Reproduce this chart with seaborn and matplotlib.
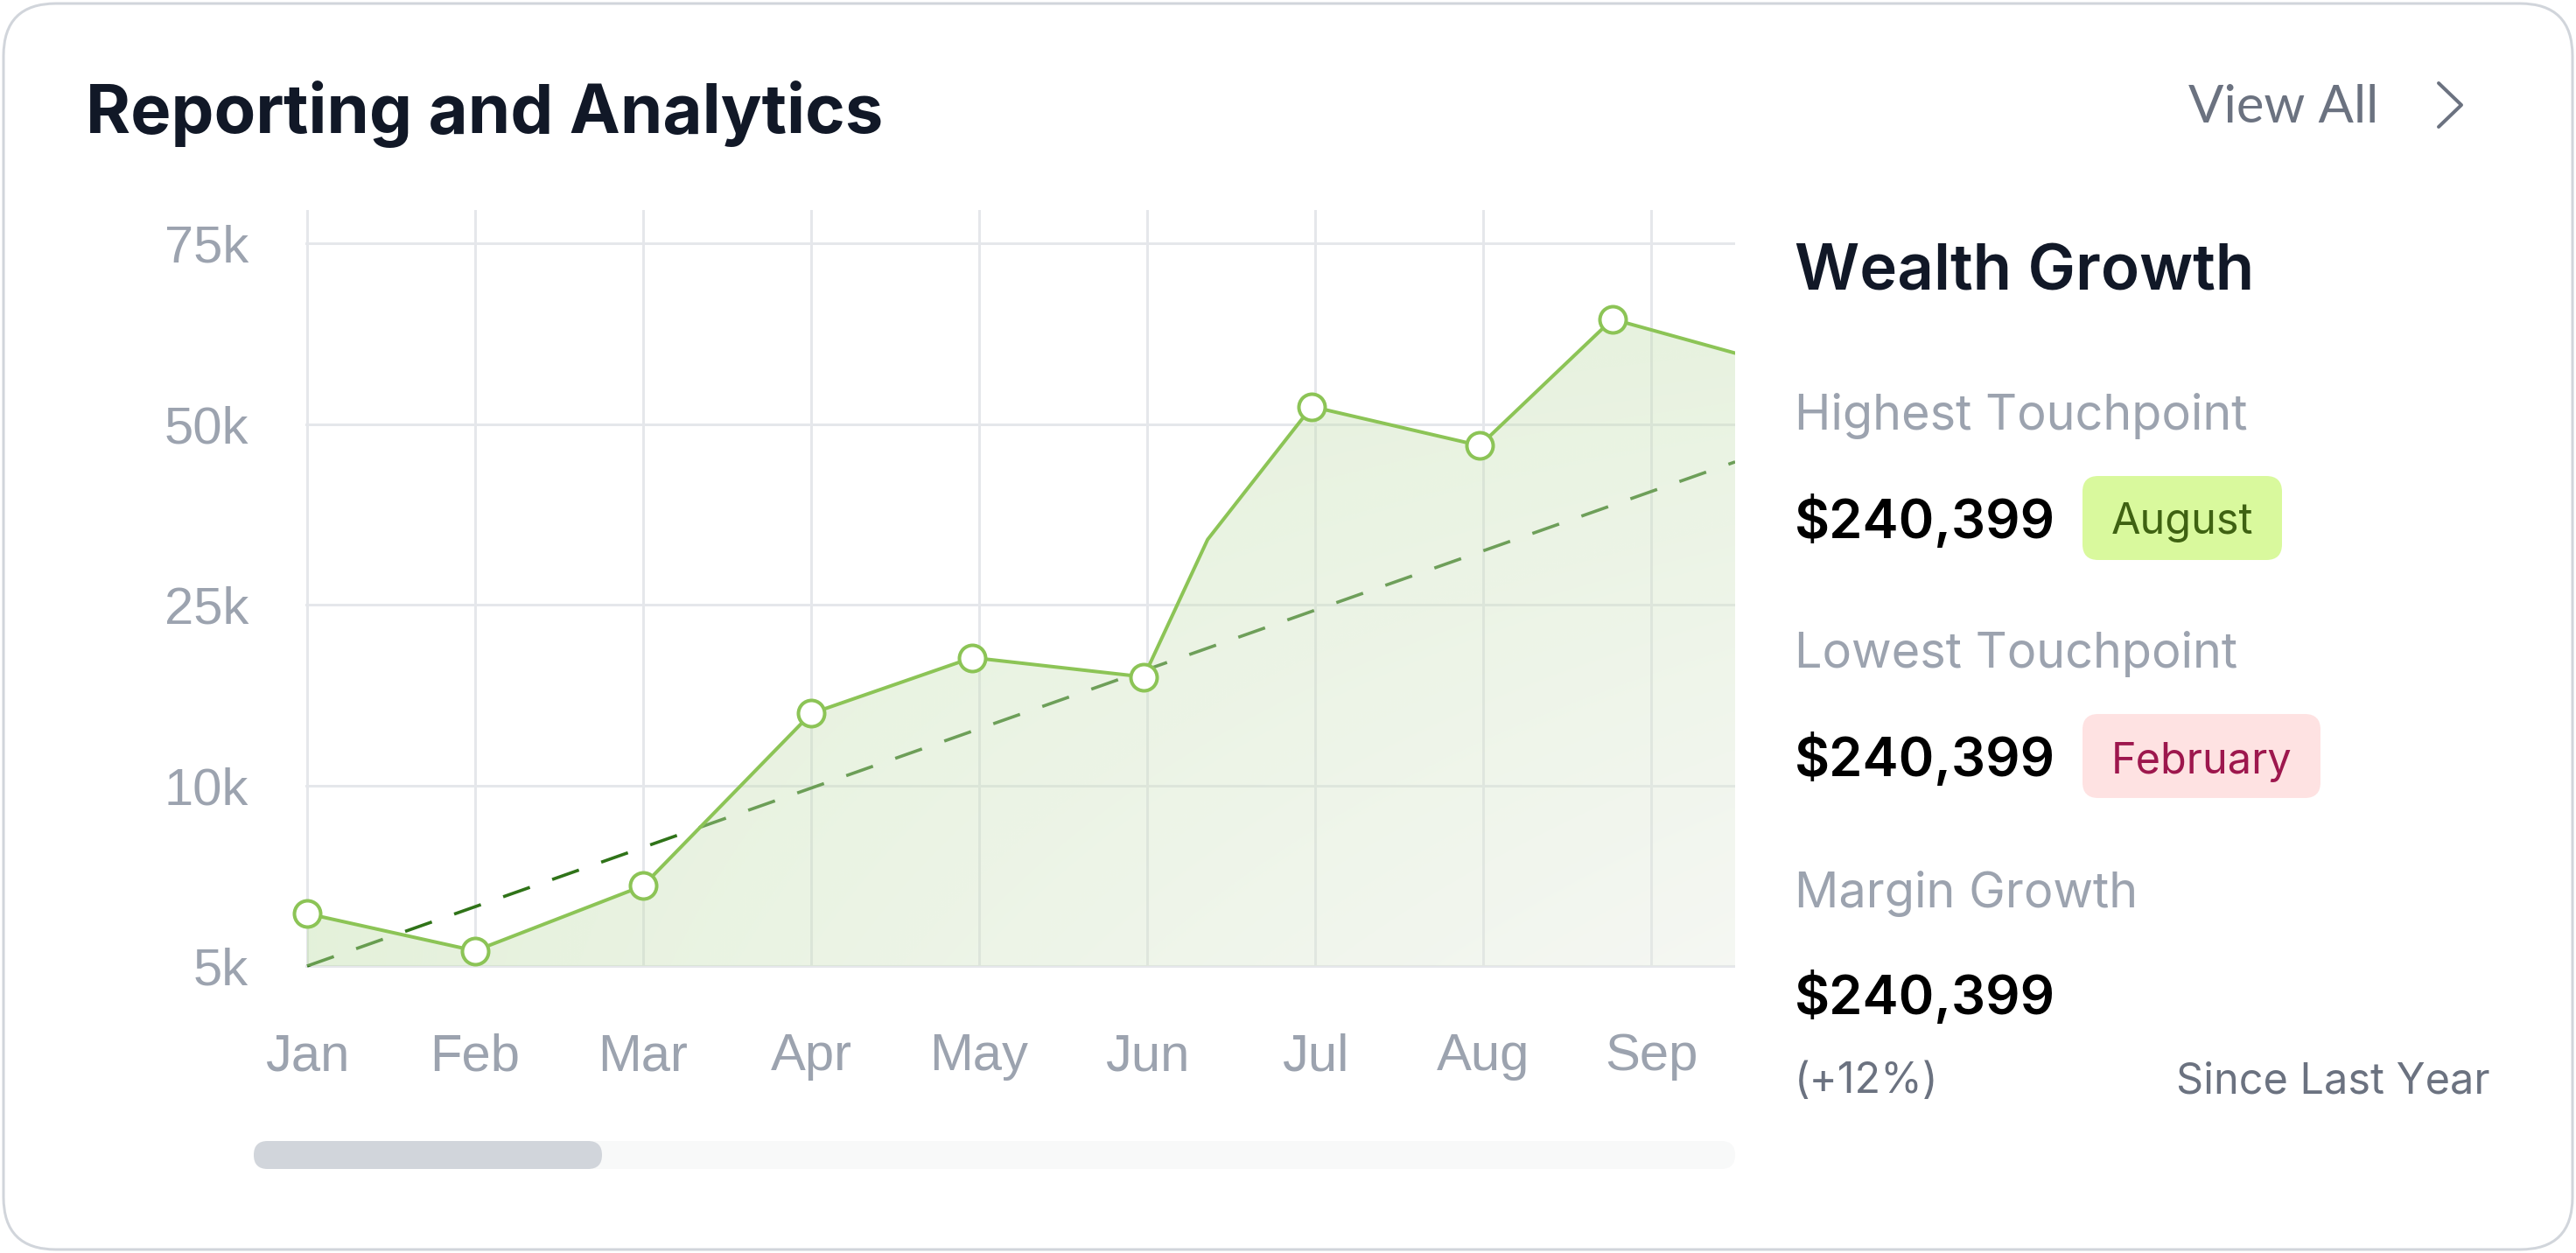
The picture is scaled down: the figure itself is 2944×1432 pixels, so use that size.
import numpy as np
import pandas as pd
import seaborn as sns
import matplotlib.pyplot as plt
from matplotlib.patches import FancyBboxPatch

# ---- data ----
months = ['Jan', 'Feb', 'Mar', 'Apr', 'May', 'Jun', 'Jul', 'Aug', 'Sep']
y_ticks = [5000, 10000, 25000, 50000, 75000]
y_tick_labels = ['5k', '10k', '25k', '50k', '75k']

# wealth series, x in month units (Jan = 0)
point_pos = [0.0, 1.0, 2.0, 3.0, 3.96, 4.98, 5.36, 5.98, 6.98, 7.77, 8.5]
point_val = [6450, 5420, 7220, 15960, 20600, 19000, 34000, 52400, 47000, 64500, 59800]
point_marked = [True, True, True, True, True, True, False, True, True, True, False]

# dashed trend line
trend_pos = [0.0, 8.5]
trend_val = [5000, 44750]

stat_labels = ['Highest Touchpoint', 'Lowest Touchpoint', 'Margin Growth']
stat_values = ['$240,399', '$240,399', '$240,399']
stat_badges = ['August', 'February', None]
margin_change = '(+12%)'
margin_note = 'Since Last Year'

# ---- figure setup ----
W, H = 2944, 1432
DPI = 200
PT = 72 / DPI  # points per pixel

sns.set_theme(style='white')
plt.rcParams['font.family'] = ['Inter', 'DejaVu Sans']

fig = plt.figure(figsize=(W / DPI, H / DPI), dpi=DPI, facecolor='white')


def fx(x):
    return x / W


def fy(y):
    return 1 - y / H


# background card, scrollbar, badges drawn in pixel space
bg = fig.add_axes([0, 0, 1, 1], zorder=0)
bg.set_xlim(0, W)
bg.set_ylim(H, 0)
bg.axis('off')
bg.add_patch(FancyBboxPatch((4, 4), W - 8, H - 8, boxstyle='round,pad=0,rounding_size=60',
                            fc='white', ec='#d1d5db', lw=3 * PT))

# scrollbar
bg.add_patch(FancyBboxPatch((290, 1304), 1983 - 290, 32, boxstyle='round,pad=0,rounding_size=16',
                            fc='#f8f9f9', ec='none'))
bg.add_patch(FancyBboxPatch((290, 1304), 688 - 290, 32, boxstyle='round,pad=0,rounding_size=16',
                            fc='#d1d5db', ec='none'))

# chevron next to "View All"
bg.plot([2787, 2813, 2787], [95, 120, 145], color='#6b7280', lw=4 * PT,
        solid_capstyle='round', solid_joinstyle='round')

# ---- chart axes ----
x_lo, x_hi = -0.01, 8.5
lv_lo, lv_hi = -0.01, 4.184
left_px = 351 + x_lo * 192
right_px = 351 + x_hi * 192
bottom_px = 1104 - lv_lo * 206.5
top_px = 1104 - lv_hi * 206.5
ax = fig.add_axes([fx(left_px), fy(bottom_px), (right_px - left_px) / W, (bottom_px - top_px) / H],
                  zorder=1)
ax.patch.set_visible(False)

tick_lv = np.arange(len(y_ticks), dtype=float)


def to_level(v):
    v = np.asarray(v, dtype=float)
    out = np.interp(v, y_ticks, tick_lv)
    out = np.where(v < y_ticks[0], (v - y_ticks[0]) / (y_ticks[1] - y_ticks[0]), out)
    out = np.where(v > y_ticks[-1], tick_lv[-1] + (v - y_ticks[-1]) / (y_ticks[-1] - y_ticks[-2]), out)
    return out


def from_level(l):
    l = np.asarray(l, dtype=float)
    out = np.interp(l, tick_lv, y_ticks)
    out = np.where(l < 0, y_ticks[0] + l * (y_ticks[1] - y_ticks[0]), out)
    out = np.where(l > tick_lv[-1], y_ticks[-1] + (l - tick_lv[-1]) * (y_ticks[-1] - y_ticks[-2]), out)
    return out


series = pd.DataFrame({'pos': point_pos, 'value': point_val, 'marked': point_marked})
trend = pd.DataFrame({'pos': trend_pos, 'value': trend_val})

line_green = '#8cc456'

# dashed trend sits under the translucent fill
sns.lineplot(data=trend, x='pos', y='value', ax=ax, color='#2f7318', lw=3.6 * PT,
             dashes=False, zorder=2)
ax.lines[-1].set_dashes((9, 7.5))

# gradient fill, clipped to area under the series
poly = ax.fill_between(series['pos'], series['value'], y_ticks[0], color='none', lw=0)
gx, gy = np.meshgrid(np.linspace(0, 1, 300), np.linspace(0, 1, 300))
t = np.clip(gx * (1 - gy), 0, 1) ** 0.85
c_top = np.array([0.735, 0.863, 0.638])
c_bot = np.array([0.905, 0.925, 0.885])
rgba = np.zeros(gx.shape + (4,))
for k in range(3):
    rgba[..., k] = c_top[k] + (c_bot[k] - c_top[k]) * t
rgba[..., 3] = 0.4
im = ax.imshow(rgba, extent=(0, 1, 0, 1), origin='lower', transform=ax.transAxes,
               aspect='auto', zorder=3, interpolation='bilinear')
im.set_clip_path(poly.get_paths()[0], transform=ax.transData)

sns.lineplot(data=series, x='pos', y='value', ax=ax, color=line_green, lw=4 * PT,
             sort=False, zorder=4)
sns.scatterplot(data=series[series['marked']], x='pos', y='value', ax=ax, s=(30 * PT) ** 2,
                color='white', edgecolor=line_green, linewidth=4 * PT, zorder=5, clip_on=False)

ax.set_yscale('function', functions=(to_level, from_level))
ax.set_xlim(x_lo, x_hi)
ax.set_ylim(float(from_level(lv_lo)), float(from_level(lv_hi)))

ax.set_yticks(y_ticks)
ax.set_yticklabels(y_tick_labels)
ax.yaxis.set_minor_locator(plt.NullLocator())
ax.set_xticks(range(len(months)))
ax.set_xticklabels(months)
ax.set_xlabel('')
ax.set_ylabel('')
for lab in ax.get_xticklabels() + ax.get_yticklabels():
    lab.set_fontfamily(['Liberation Sans', 'DejaVu Sans'])
    lab.set_color('#9ca3af')
    lab.set_fontsize(21.5)
ax.tick_params(axis='y', length=0, pad=65 * PT)
ax.tick_params(axis='x', length=0, pad=74 * PT)
ax.grid(True, color='#e5e7eb', lw=3 * PT)
ax.set_axisbelow(True)
sns.despine(ax=ax, left=True, bottom=True)

# ---- header ----
fig.text(fx(98), fy(152), 'Reporting and Analytics', fontsize=28, fontweight='bold',
         color='#111827', va='baseline', ha='left')
fig.text(fx(2501), fy(140), 'View All', fontsize=21.5, color='#6b7280',
         va='baseline', ha='left', family=['Lato', 'DejaVu Sans'])

# ---- right panel ----
fig.text(fx(2051), fy(332), 'Wealth Growth', fontsize=26.2, fontweight='semibold',
         color='#111827', va='baseline', ha='left')

label_base = [491, 763, 1037]
value_base = [615, 887, 1159]
badge_style = {
    'August': ('#d9f99d', '#3f6212', 2380, 2608, 544, 640, 610),
    'February': ('#fee2e2', '#9d174d', 2380, 2652, 816, 912, 884),
}
for lab, val, badge, lb, vb in zip(stat_labels, stat_values, stat_badges, label_base, value_base):
    fig.text(fx(2051), fy(lb), lab, fontsize=20.1, color='#9ca3af', va='baseline', ha='left')
    fig.text(fx(2051), fy(vb), val, fontsize=22.2, fontweight='semibold', color='#000000',
             va='baseline', ha='left')
    if badge:
        fc, tc, x0, x1, y0, y1, tb = badge_style[badge]
        bg.add_patch(FancyBboxPatch((x0, y0), x1 - x0, y1 - y0,
                                    boxstyle='round,pad=0,rounding_size=18', fc=fc, ec='none'))
        fig.text(fx((x0 + x1) / 2), fy(tb), badge, fontsize=17.5, color=tc,
                 va='baseline', ha='center')

fig.text(fx(2051), fy(1249), margin_change, fontsize=17.5, color='#6b7280',
         va='baseline', ha='left')
fig.text(fx(2846), fy(1249), margin_note, fontsize=17.5, color='#6b7280',
         va='baseline', ha='right')

fig.savefig('out.png', dpi=DPI, facecolor='white')
